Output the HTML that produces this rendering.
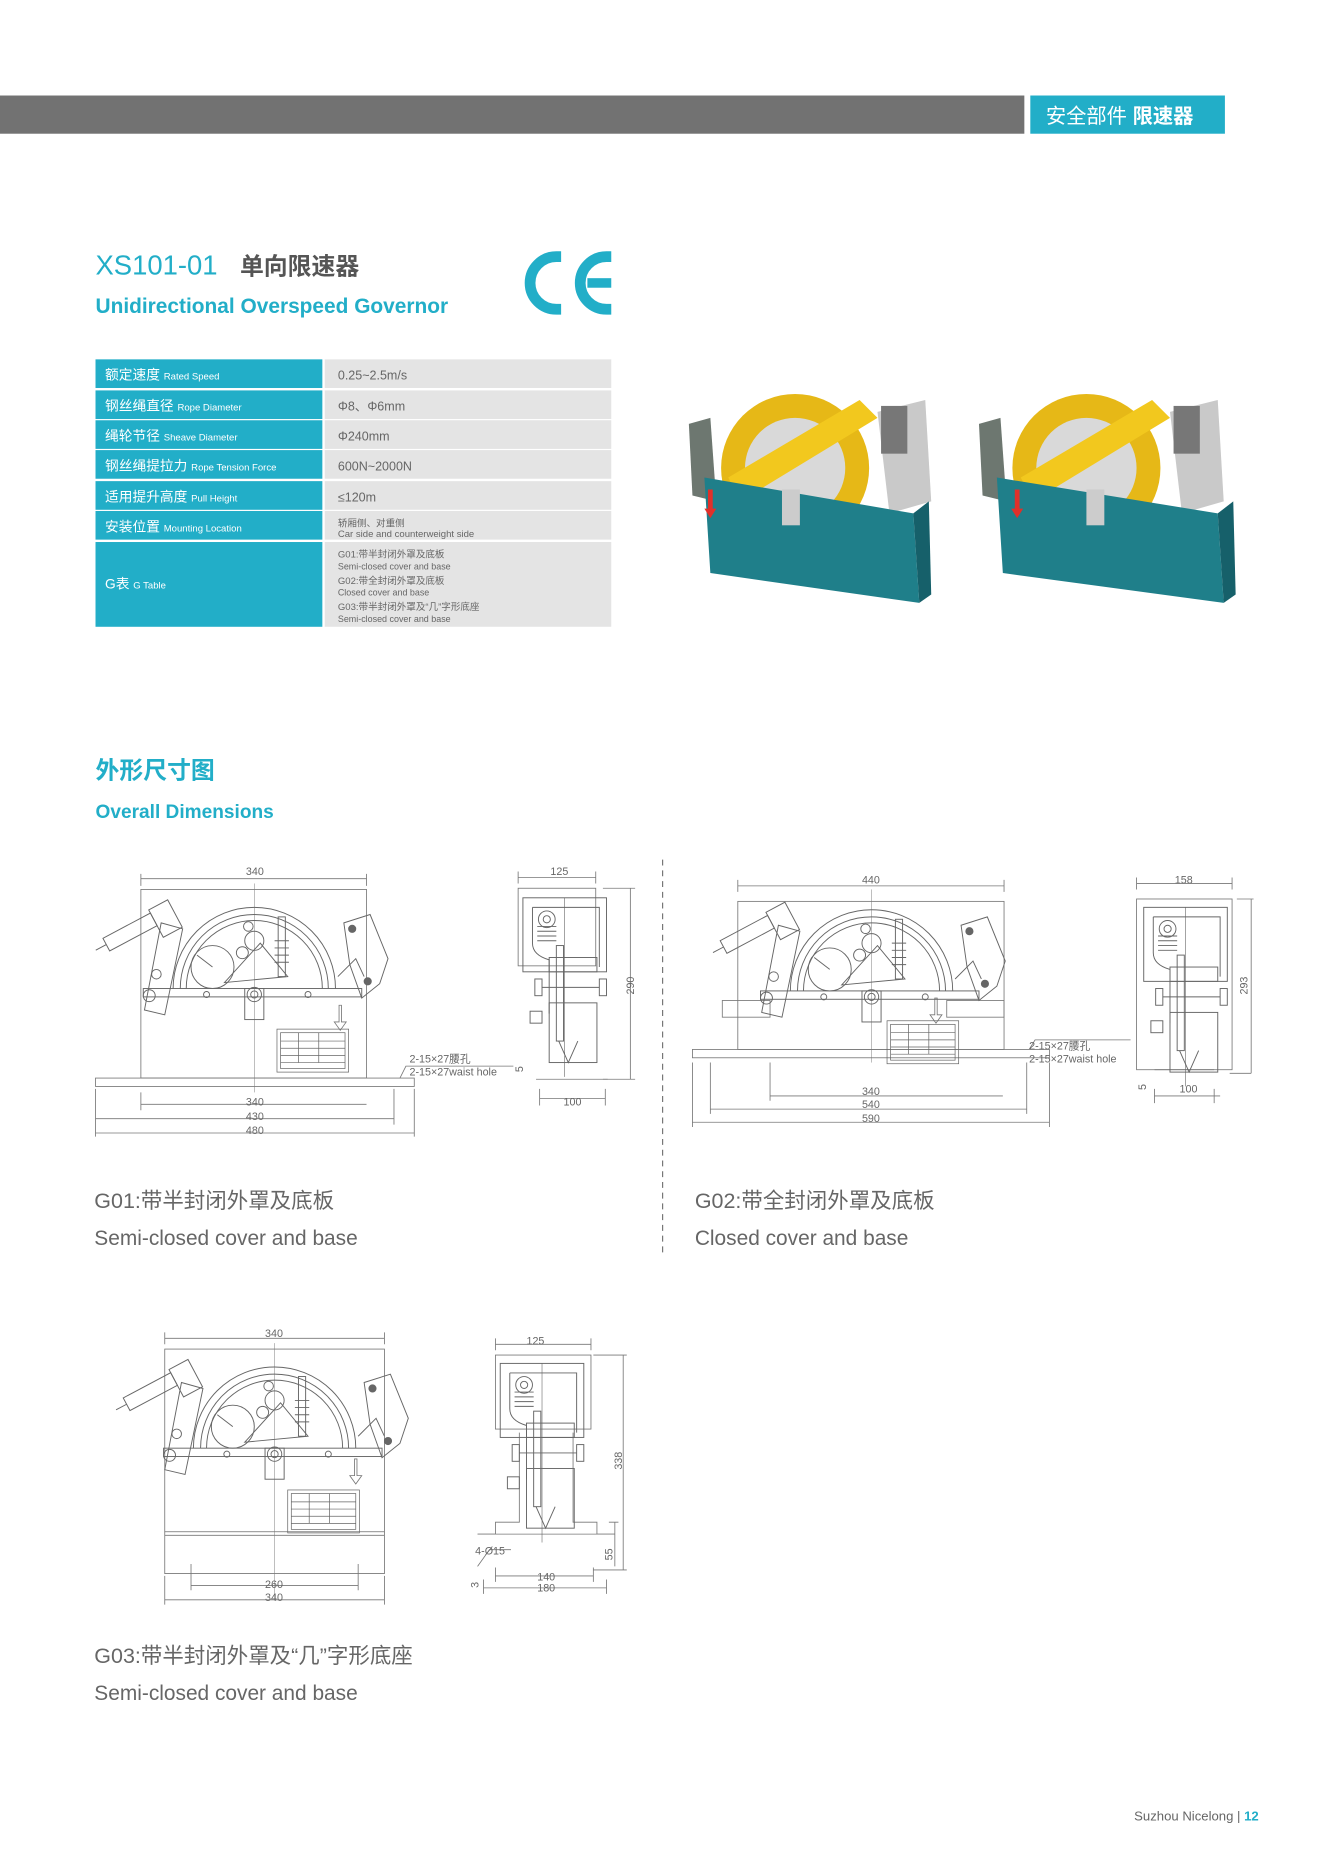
<!DOCTYPE html>
<html><head><meta charset="utf-8"><style>
html,body{margin:0;padding:0;background:#fff;}
svg{display:block;}
text{font-family:"Liberation Sans","Noto Sans CJK SC",sans-serif;}
</style></head><body>
<svg width="1324" height="1872" viewBox="0 0 1109 1568" preserveAspectRatio="none" xmlns="http://www.w3.org/2000/svg">
<defs>
<g id="mech" fill="none" stroke="#666" stroke-width="0.8">
  <path d="M-68 0 A68 68 0 0 1 68 0"/>
  <path d="M-62 0 A62 62 0 0 1 62 0"/>
  <path d="M-57 0 A57 57 0 0 1 57 0"/>
  <rect x="-93" y="0" width="183" height="7"/>
  <rect x="-8" y="0" width="16" height="26"/>
  <circle cx="0" cy="5" r="6"/><circle cx="0" cy="5" r="3"/>
  <circle cx="-40" cy="5" r="2.5"/><circle cx="45" cy="5" r="2.5"/>
  <circle cx="-35" cy="-18" r="18"/>
  <line x1="-35" y1="-18" x2="-48" y2="-28"/>
  <circle cx="0" cy="-40" r="8"/><circle cx="-10" cy="-30" r="5"/><circle cx="-5" cy="-52" r="4"/>
  <path d="M-25 -5 L5 -38 L28 -10 Z"/>
  <rect x="20" y="-60" width="6" height="50"/>
  <path d="M17 -40 h12 M17 -34 h12 M17 -28 h12 M17 -22 h12"/>
  <g transform="rotate(-28 -100 -45)">
    <rect x="-125" y="-55" width="45" height="12"/>
    <rect x="-80" y="-58" width="18" height="26"/>
    <line x1="-135" y1="-49" x2="-125" y2="-49"/>
  </g>
  <path d="M-78 -55 L-60 -50 L-75 22 L-92 18 Z"/>
  <circle cx="-82" cy="-12" r="4"/><circle cx="-88" cy="6" r="5"/>
  <path d="M75 -55 L97 -62 L112 -25 L105 -4 L90 8 L80 -20 Z"/>
  <circle cx="82" cy="-50" r="3" fill="#666"/><circle cx="95" cy="-6" r="3" fill="#666"/>
  <path d="M70 -10 L85 -25 L92 -10"/>
</g>
<g id="plate" fill="none" stroke="#666" stroke-width="0.6">
  <rect x="0" y="0" width="60" height="36"/>
  <rect x="3" y="3" width="54" height="30"/>
  <path d="M3 10 h54 M3 16 h54 M3 22 h54 M3 28 h54 M18 3 v25 M35 3 v25"/>
</g>
<g id="side" fill="none" stroke="#666" stroke-width="0.8">
  <rect x="0" y="0" width="70" height="62"/>
  <path d="M8 8 h56 v50 M8 8 v30 q0 10 14 14 v45"/>
  <circle cx="20" cy="18" r="7"/><circle cx="20" cy="18" r="3"/>
  <path d="M12 24 h16 M12 28 h16 M12 32 h16 M12 36 h16"/>
  <rect x="22" y="50" width="40" height="12"/>
  <rect x="28" y="40" width="6" height="80"/>
  <rect x="10" y="68" width="6" height="14"/><rect x="64" y="68" width="6" height="14"/>
  <path d="M16 75 h48"/>
  <rect x="6" y="95" width="10" height="10"/>
  <rect x="22" y="88" width="40" height="50"/>
  <path d="M30 120 l8 18 l8 -18"/>
  <path d="M35 0 v150" stroke-width="0.5"/>
</g>
</defs>

<!-- header bar -->
<rect x="0" y="80" width="858" height="32" fill="#727272"/>
<rect x="863" y="80" width="163" height="32" fill="#22aec8"/>
<text x="876" y="103" font-size="17" fill="#fff">安全部件 <tspan font-weight="bold">限速器</tspan></text>

<!-- title -->
<text x="80" y="230" font-size="23" fill="#22aec8">XS101-01</text>
<text x="201" y="230" font-size="20" font-weight="bold" fill="#555">单向限速器</text>
<text x="80" y="262" font-size="17.5" font-weight="bold" fill="#22aec8">Unidirectional Overspeed Governor</text>
<!-- CE -->
<path d="M470 215 H466 A22 22 0 0 0 466 259 H470" fill="none" stroke="#22aec8" stroke-width="9"/>
<path d="M512 215 H508 A22 22 0 0 0 508 259 H512" fill="none" stroke="#22aec8" stroke-width="9"/>
<rect x="492" y="233" width="20" height="8" fill="#22aec8"/>

<!-- table -->
<g font-size="11.5">
<rect x="80" y="301" width="190" height="24" fill="#22aec8"/><rect x="272" y="301" width="240" height="24" fill="#e4e4e4"/>
<rect x="80" y="327" width="190" height="24" fill="#22aec8"/><rect x="272" y="327" width="240" height="24" fill="#e4e4e4"/>
<rect x="80" y="352" width="190" height="24" fill="#22aec8"/><rect x="272" y="352" width="240" height="24" fill="#e4e4e4"/>
<rect x="80" y="377" width="190" height="24" fill="#22aec8"/><rect x="272" y="377" width="240" height="24" fill="#e4e4e4"/>
<rect x="80" y="403" width="190" height="24" fill="#22aec8"/><rect x="272" y="403" width="240" height="24" fill="#e4e4e4"/>
<rect x="80" y="428" width="190" height="24" fill="#22aec8"/><rect x="272" y="428" width="240" height="24" fill="#e4e4e4"/>
<rect x="80" y="454" width="190" height="71" fill="#22aec8"/><rect x="272" y="454" width="240" height="71" fill="#e4e4e4"/>
<g fill="#fff">
<text x="88" y="318">额定速度 <tspan font-size="8">Rated Speed</tspan></text>
<text x="88" y="344">钢丝绳直径 <tspan font-size="8">Rope Diameter</tspan></text>
<text x="88" y="369">绳轮节径 <tspan font-size="8">Sheave Diameter</tspan></text>
<text x="88" y="394">钢丝绳提拉力 <tspan font-size="8">Rope Tension Force</tspan></text>
<text x="88" y="420">适用提升高度 <tspan font-size="8">Pull Height</tspan></text>
<text x="88" y="445">安装位置 <tspan font-size="8">Mounting Location</tspan></text>
<text x="88" y="493">G表 <tspan font-size="8">G Table</tspan></text>
</g>
<g fill="#666" font-size="10.5">
<text x="283" y="318">0.25~2.5m/s</text>
<text x="283" y="344">Φ8、Φ6mm</text>
<text x="283" y="369">Φ240mm</text>
<text x="283" y="394">600N~2000N</text>
<text x="283" y="420">≤120m</text>
<text x="283" y="441" font-size="8">轿厢侧、对重侧</text>
<text x="283" y="450" font-size="8">Car side and counterweight side</text>
<text x="283" y="467" font-size="8">G01:带半封闭外罩及底板</text>
<text x="283" y="477" font-size="7.5">Semi-closed cover and base</text>
<text x="283" y="489" font-size="8">G02:带全封闭外罩及底板</text>
<text x="283" y="499" font-size="7.5">Closed cover and base</text>
<text x="283" y="511" font-size="8">G03:带半封闭外罩及“几”字形底座</text>
<text x="283" y="521" font-size="7.5">Semi-closed cover and base</text>
</g>
</g>

<!-- photos -->
<g>
 <path d="M577 355 L595 350 L600 420 L580 415 Z" fill="#6d7770"/>
 <circle cx="666" cy="392" r="62" fill="#e6b817"/><circle cx="666" cy="392" r="42" fill="#d9d9d9"/>
 <path d="M610 400 L720 335 L735 350 L620 420 Z" fill="#f2c81e"/>
 <path d="M735 345 L775 335 L780 420 L745 430 Z" fill="#c9c9c9"/>
 <rect x="738" y="340" width="22" height="40" fill="#777"/>
 <path d="M590 400 L765 430 L770 505 L595 480 Z" fill="#1f7f8a"/>
 <path d="M765 430 L778 420 L780 498 L770 505 Z" fill="#16606a"/>
 <path d="M595 410 v18" stroke="#e0302a" stroke-width="4"/><path d="M590 426 l5 8 l5 -8 Z" fill="#e0302a"/>
 <rect x="655" y="410" width="15" height="30" fill="#ccc"/>
</g>
<g>
 <path d="M820 355 L838 350 L843 420 L823 415 Z" fill="#6d7770"/>
 <circle cx="910" cy="392" r="62" fill="#e6b817"/><circle cx="910" cy="392" r="42" fill="#d9d9d9"/>
 <path d="M855 400 L965 335 L980 350 L865 420 Z" fill="#f2c81e"/>
 <path d="M980 345 L1020 335 L1025 420 L990 430 Z" fill="#c9c9c9"/>
 <rect x="983" y="340" width="22" height="40" fill="#777"/>
 <path d="M835 400 L1020 430 L1025 505 L840 480 Z" fill="#1f7f8a"/>
 <path d="M1020 430 L1033 420 L1035 498 L1025 505 Z" fill="#16606a"/>
 <path d="M852 410 v18" stroke="#e0302a" stroke-width="4"/><path d="M847 426 l5 8 l5 -8 Z" fill="#e0302a"/>
 <rect x="910" y="410" width="15" height="30" fill="#ccc"/>
</g>

<!-- section title -->
<text x="80" y="652" font-size="20" font-weight="bold" fill="#22aec8">外形尺寸图</text>
<text x="80" y="685" font-size="16" font-weight="bold" fill="#22aec8">Overall Dimensions</text>

<!-- dashed divider -->
<line x1="555" y1="720" x2="555" y2="1052" stroke="#777" stroke-width="1" stroke-dasharray="5,4"/>

<g fill="none" stroke="#777" stroke-width="0.7">
<rect x="118" y="745" width="189" height="158"/>
<line x1="213" y1="740" x2="213" y2="915" stroke-width="0.4"/>
<rect x="80" y="903" width="267" height="7"/>
<path d="M118 736 h189 M118 732 v10 M307 732 v10"/>
<path d="M118 925 h189 M80 937 h250 M80 949 h267 M118 915 v15 M80 912 v40 M330 912 v30 M347 912 v40"/>
<path d="M335 903 L340 893 h90"/>
<path d="M284 842 v14 h-4 l5 7 l5 -7 h-4 v-14 Z"/>
<rect x="434" y="744" width="65" height="65"/>
<path d="M434 735 h65 M434 730 v10 M499 730 v10 M505 744 h27 M528 744 v160 M505 904 h27"/>
<path d="M449 904 h60 M452 920 h55 M452 912 v14 M507 912 v14"/>
<rect x="618" y="755" width="223" height="124"/>
<line x1="730" y1="745" x2="730" y2="890" stroke-width="0.4"/>
<rect x="580" y="879" width="299" height="7"/>
<path d="M618 742 h223 M618 737 v10 M841 737 v10"/>
<path d="M645 918 h195 M595 929 h265 M580 940 h299 M645 890 v32 M595 890 v43 M860 890 v43 M580 890 v54 M879 890 v54"/>
<path d="M862 879 L867 871 h80"/>
<rect x="605" y="838" width="40" height="14"/><rect x="793" y="838" width="48" height="14"/>
<path d="M783 836 v14 h-4 l5 7 l5 -7 h-4 v-14 Z"/>
<rect x="952" y="753" width="80" height="143"/>
<path d="M952 740 h80 M952 735 v10 M1032 735 v10 M1036 753 h14 M1048 753 v146 M1030 899 h18"/>
<path d="M967 896 h50 M967 918 h55 M967 912 v12 M1017 912 v12"/>
<rect x="138" y="1130" width="184" height="153"/>
<line x1="230" y1="1125" x2="230" y2="1340" stroke-width="0.4"/>
<path d="M138 1283 v35 h184 v-35 M138 1286 h184"/>
<path d="M138 1121 h184 M138 1116 v10 M322 1116 v10"/>
<path d="M160 1328 h140 M160 1310 v22 M300 1310 v22 M138 1340 h184 M138 1320 v24 M322 1320 v24"/>
<path d="M297 1222 v14 h-4 l5 7 l5 -7 h-4 v-14 Z"/>
<rect x="415" y="1135" width="80" height="62"/>
<path d="M415 1126 h80 M415 1121 v10 M495 1121 v10 M497 1135 h28 M522 1135 v180 M497 1315 h28"/>
<path d="M435 1200 v75 h-20 v10 h-15 M480 1200 v75 h20 v10 h15"/>
<path d="M400 1285 h115 M415 1320 h82 M415 1325 v-12 M497 1325 v-12 M405 1330 h103 M405 1335 v-12 M508 1335 v-12"/>
<path d="M510 1275 h8 M515 1275 v37 M400 1312 L410 1298 h18"/>
</g>
<use href="#mech" x="213" y="828"/>
<use href="#mech" x="730" y="830"/>
<use href="#mech" x="230" y="1213"/>
<use href="#plate" x="232" y="862"/>
<use href="#plate" x="743" y="855"/>
<use href="#plate" x="241" y="1248"/>
<use href="#side" x="438" y="752"/>
<use href="#side" x="958" y="760"/>
<use href="#side" x="419" y="1142"/>

<g font-size="9" fill="#666">
<text x="206" y="733">340</text><text x="461" y="733">125</text>
<text x="206" y="926">340</text><text x="206" y="938">430</text><text x="206" y="950">480</text>
<text x="472" y="926">100</text>
<text x="343" y="890">2-15×27腰孔</text><text x="343" y="901">2-15×27waist hole</text>
<text x="531" y="833" transform="rotate(-90 531 833)">290</text>
<text x="438" y="898" transform="rotate(-90 438 898)">5</text>
<text x="722" y="740">440</text><text x="984" y="740">158</text>
<text x="722" y="917">340</text><text x="722" y="928">540</text><text x="722" y="940">590</text>
<text x="988" y="915">100</text>
<text x="862" y="879">2-15×27腰孔</text><text x="862" y="890">2-15×27waist hole</text>
<text x="1045" y="833" transform="rotate(-90 1045 833)">293</text>
<text x="960" y="913" transform="rotate(-90 960 913)">5</text>
<text x="222" y="1120">340</text><text x="441" y="1126">125</text>
<text x="222" y="1330">260</text><text x="222" y="1341">340</text>
<text x="450" y="1324">140</text><text x="450" y="1333">180</text>
<text x="398" y="1302">4-Ø15</text>
<text x="521" y="1231" transform="rotate(-90 521 1231)">338</text>
<text x="513" y="1307" transform="rotate(-90 513 1307)">55</text>
<text x="401" y="1330" transform="rotate(-90 401 1330)">3</text>
</g>

<g fill="#666">
<text x="79" y="1012" font-size="18">G01:带半封闭外罩及底板</text>
<text x="79" y="1043" font-size="17.5">Semi-closed cover and base</text>
<text x="582" y="1012" font-size="18">G02:带全封闭外罩及底板</text>
<text x="582" y="1043" font-size="17.5">Closed cover and base</text>
<text x="79" y="1393" font-size="18">G03:带半封闭外罩及“几”字形底座</text>
<text x="79" y="1424" font-size="17.5">Semi-closed cover and base</text>
</g>

<text x="950" y="1525" font-size="11" fill="#666">Suzhou Nicelong | <tspan fill="#22aec8" font-weight="bold">12</tspan></text>
</svg>
</body></html>
